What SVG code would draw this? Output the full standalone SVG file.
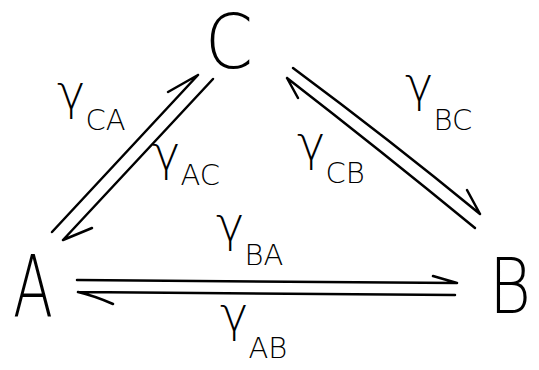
<svg xmlns="http://www.w3.org/2000/svg" width="539" height="370" viewBox="0 0 539 370">
<style>
  .node { font-family: "DejaVu Sans", "Liberation Sans", sans-serif; font-weight: 200; fill: #000; }
  .lbl { font-family: "DejaVu Sans", "Liberation Sans", sans-serif; font-weight: 300; fill: #000; }
  .g { font-size: 48px; }
  .sub { font-size: 29px; }
  .edge { fill: none; stroke: #000; stroke-width: 2.5; stroke-linecap: round; stroke-linejoin: round; }
</style>
<rect width="539" height="370" fill="#fff"/>
<g id="connectors">
  <path id="A-C" class="edge" d="M52,232 L198,75 M198,75 L168,92"/>
  <path id="C-A" class="edge" d="M213,79 L63,240 M63,240 L92,228"/>
  <path id="C-B" class="edge" d="M293,68 Q390,140 480,214 M480,214 L467,190"/>
  <path id="B-C" class="edge" d="M475,228 Q380,150 287,78 M287,78 L298,98"/>
  <path id="A-B" class="edge" d="M77,280 L457,283 M457,283 L433,276"/>
  <path id="B-A" class="edge" d="M455,295 L78,292 M78,292 Q95,296 113,304"/>
</g>
<g id="node-C"><text class="node" x="205" y="68" font-size="74" textLength="48" lengthAdjust="spacingAndGlyphs">C</text></g>
<g id="node-A"><text class="node" x="13" y="317" font-size="86" textLength="40" lengthAdjust="spacingAndGlyphs">A</text></g>
<g id="node-B"><text class="node" x="489" y="313" font-size="76" textLength="42" lengthAdjust="spacingAndGlyphs">B</text></g>
<g id="labels">
  <text id="l-CA" class="lbl" x="57" y="109"><tspan class="g">γ</tspan><tspan class="sub" dy="21">CA</tspan></text>
  <text id="l-AC" class="lbl" x="152" y="170"><tspan class="g">γ</tspan><tspan class="sub" dy="15">AC</tspan></text>
  <text id="l-BC" class="lbl" x="405" y="101"><tspan class="g">γ</tspan><tspan class="sub" dy="29">BC</tspan></text>
  <text id="l-CB" class="lbl" x="297" y="160"><tspan class="g">γ</tspan><tspan class="sub" dy="23">CB</tspan></text>
  <text id="l-BA" class="lbl" x="216" y="241"><tspan class="g">γ</tspan><tspan class="sub" dy="24">BA</tspan></text>
  <text id="l-AB" class="lbl" x="220" y="331"><tspan class="g">γ</tspan><tspan class="sub" dy="27">AB</tspan></text>
</g>
</svg>
